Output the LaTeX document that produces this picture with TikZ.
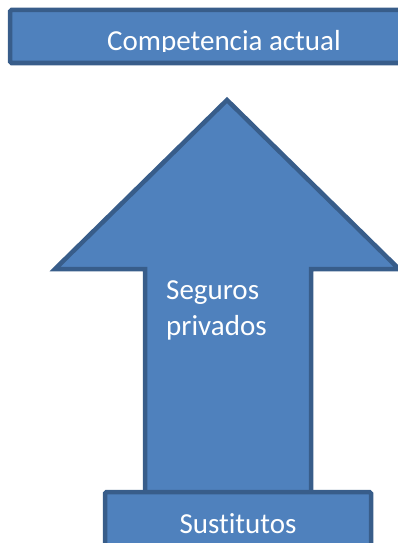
\documentclass[tikz,border=0pt]{standalone}
\usepackage{fontspec}
\setmainfont{Carlito}[Ligatures=NoCommon]
\definecolor{boxfill}{HTML}{4F81BD}
\definecolor{boxline}{HTML}{385D8A}
\tikzset{
  blueshape/.style={fill=boxfill, draw=boxline, line width=4.5pt, line join=miter, rounded corners=1.5pt},
  whitetext/.style={text=white, font=\fontsize{29}{36}\selectfont, inner sep=0pt}
}
\begin{document}
\begin{tikzpicture}[x=1pt, y=-1pt]
        \useasboundingbox (0,0) rectangle (398,543);
        % coordinates for the top box
        \coordinate (topleft)     at (10, 10);
        \coordinate (topright)    at (442, 63);
        % coordinates for the arrow
        \coordinate (tip)         at (227, 100);
        \coordinate (wingleft)    at ( 55, 269);
        \coordinate (wingright)   at (399, 269);
        \coordinate (shaftleft)   at (145, 269);
        \coordinate (shaftright)  at (311, 269);
        \coordinate (footleft)    at (145, 500);
        \coordinate (footright)   at (311, 500);
        % coordinates for the bottom box
        \coordinate (bottomleft)  at (105, 492);
        \coordinate (bottomright) at (371, 560);
        % drawing the top box
        \draw[blueshape] (topleft) rectangle (topright);
        % drawing the arrow
        \draw[blueshape, rounded corners=0pt] (tip) -- (wingright) -- (shaftright) -- (footright)
          -- (footleft) -- (shaftleft) -- (wingleft) -- cycle;
        % drawing the bottom box
        \draw[blueshape] (bottomleft) rectangle (bottomright);
        % the texts
        \begin{scope}
          \clip (0,0) rectangle (398,52);
          \node[whitetext, anchor=base] (competencia) at (224, 51) {Competencia actual};
        \end{scope}
        \node[whitetext, anchor=base west, align=left] (seguros) at (166, 335) {Seguros\\privados};
        \node[whitetext, anchor=base] (sustitutos) at (238, 533) {Sustitutos};
      \end{tikzpicture}
\end{document}
